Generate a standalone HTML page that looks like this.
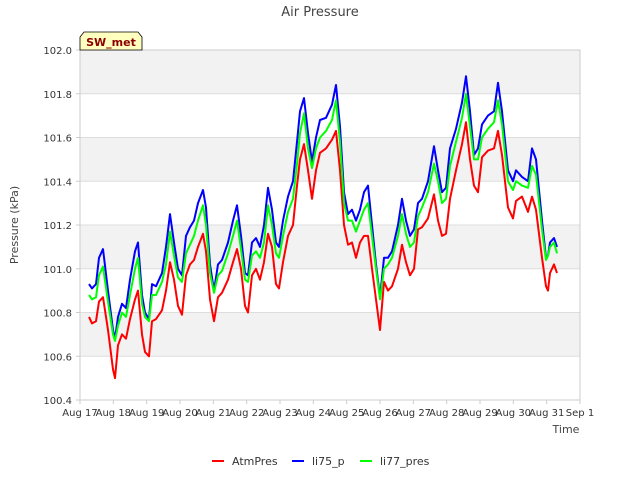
<!DOCTYPE html>
<html><head><meta charset="utf-8"><style>
body{margin:0;background:#fff;font-family:"Liberation Sans",sans-serif;}
svg text{font-family:"DejaVu Sans","Liberation Sans",sans-serif;}
</style></head><body>
<svg id="chart" width="640" height="480" xmlns="http://www.w3.org/2000/svg">
<text x="320" y="16" text-anchor="middle" font-size="13" fill="#444">Air Pressure</text>
<g id="bands"></g>
<g id="grid"></g>
<rect x="80" y="50" width="500" height="350" fill="none" stroke="#ccc"/>
<g id="yticks"></g>
<g id="xticks"></g>
<text transform="translate(18,225) rotate(-90)" text-anchor="middle" font-size="11" fill="#444">Pressure (kPa)</text>
<text x="566" y="433" text-anchor="middle" font-size="11" fill="#444">Time</text>
<g id="series"></g>
<g>
<path d="M80,50 L80,37 L84,32 L138,32 L142,37 L142,50 Z" fill="#ffffc0" stroke="#000" stroke-width="0.8"/>
<text x="111" y="46" text-anchor="middle" font-size="11" font-weight="bold" fill="#8b0000">SW_met</text>
</g>
<g>
<g><line x1="212" y1="461" x2="224" y2="461" stroke="#f00" stroke-width="2"/><text x="232" y="465" font-size="11" fill="#333">AtmPres</text></g>
<g><line x1="292" y1="461" x2="304" y2="461" stroke="#00f" stroke-width="2"/><text x="312" y="465" font-size="11" fill="#333">li75_p</text></g>
<g><line x1="360" y1="461" x2="372" y2="461" stroke="#0f0" stroke-width="2"/><text x="380" y="465" font-size="11" fill="#333">li77_pres</text></g>
</g>
</svg>
<script>
const xTickLabels=["Aug 17","Aug 18","Aug 19","Aug 20","Aug 21","Aug 22","Aug 23","Aug 24","Aug 25","Aug 26","Aug 27","Aug 28","Aug 29","Aug 30","Aug 31","Sep 1"];
const yTickValues=[100.4,100.6,100.8,101.0,101.2,101.4,101.6,101.8,102.0];
const days=[0.27,0.36,0.48,0.57,0.69,0.84,0.99,1.05,1.14,1.26,1.38,1.50,1.65,1.74,1.86,1.95,2.07,2.16,2.28,2.46,2.58,2.70,2.82,2.94,3.06,3.18,3.30,3.42,3.54,3.69,3.78,3.90,4.02,4.14,4.26,4.44,4.59,4.71,4.83,4.95,5.04,5.16,5.28,5.40,5.52,5.64,5.76,5.88,5.97,6.09,6.24,6.39,6.51,6.60,6.72,6.84,6.96,7.08,7.20,7.38,7.56,7.68,7.80,7.92,8.04,8.16,8.28,8.40,8.52,8.64,8.76,8.88,9.00,9.12,9.24,9.36,9.54,9.66,9.78,9.90,10.02,10.14,10.26,10.44,10.62,10.74,10.86,10.98,11.10,11.28,11.46,11.58,11.70,11.82,11.94,12.06,12.24,12.42,12.54,12.66,12.84,12.99,13.08,13.26,13.44,13.56,13.68,13.86,13.98,14.04,14.10,14.22,14.31];
const atmPres=[100.78,100.75,100.76,100.85,100.87,100.72,100.54,100.50,100.65,100.70,100.68,100.77,100.86,100.90,100.70,100.62,100.60,100.76,100.77,100.81,100.90,101.03,100.95,100.83,100.79,100.97,101.02,101.04,101.10,101.16,101.08,100.86,100.76,100.87,100.89,100.95,101.03,101.09,101.00,100.83,100.80,100.97,101.00,100.95,101.03,101.16,101.10,100.93,100.91,101.03,101.15,101.20,101.38,101.50,101.57,101.45,101.32,101.45,101.53,101.55,101.59,101.63,101.45,101.20,101.11,101.12,101.05,101.12,101.15,101.15,101.00,100.86,100.72,100.94,100.90,100.92,101.00,101.11,101.03,100.97,101.00,101.18,101.19,101.23,101.34,101.22,101.15,101.16,101.32,101.45,101.57,101.67,101.50,101.38,101.35,101.51,101.54,101.55,101.63,101.52,101.28,101.23,101.31,101.33,101.26,101.33,101.27,101.05,100.92,100.90,100.98,101.02,100.98];
const li75p=[100.93,100.91,100.93,101.05,101.09,100.90,100.72,100.68,100.78,100.84,100.82,100.95,101.08,101.12,100.88,100.80,100.77,100.93,100.92,100.98,101.10,101.25,101.12,101.00,100.97,101.15,101.19,101.22,101.30,101.36,101.28,101.02,100.90,101.02,101.04,101.12,101.22,101.29,101.15,100.98,100.97,101.12,101.14,101.10,101.20,101.37,101.27,101.12,101.10,101.22,101.33,101.40,101.58,101.72,101.78,101.62,101.49,101.60,101.68,101.69,101.75,101.84,101.65,101.35,101.25,101.27,101.22,101.27,101.35,101.38,101.20,101.02,100.87,101.05,101.05,101.08,101.20,101.32,101.22,101.15,101.18,101.30,101.32,101.40,101.56,101.45,101.35,101.37,101.55,101.64,101.76,101.88,101.72,101.52,101.55,101.66,101.70,101.72,101.85,101.72,101.45,101.40,101.45,101.42,101.40,101.55,101.50,101.22,101.05,101.06,101.12,101.14,101.10];
const li77pres=[100.88,100.86,100.87,100.97,101.01,100.85,100.70,100.67,100.74,100.80,100.78,100.88,101.00,101.05,100.84,100.78,100.76,100.88,100.88,100.94,101.02,101.17,101.06,100.96,100.94,101.07,101.11,101.15,101.22,101.29,101.20,100.98,100.89,100.97,100.99,101.07,101.15,101.22,101.09,100.95,100.94,101.06,101.08,101.05,101.12,101.29,101.20,101.07,101.05,101.15,101.26,101.32,101.48,101.62,101.71,101.55,101.46,101.55,101.60,101.63,101.68,101.77,101.58,101.30,101.22,101.22,101.17,101.22,101.27,101.30,101.15,101.00,100.86,101.00,101.02,101.05,101.15,101.25,101.16,101.10,101.12,101.24,101.28,101.35,101.48,101.40,101.30,101.32,101.47,101.58,101.69,101.80,101.65,101.50,101.50,101.60,101.64,101.67,101.77,101.66,101.40,101.36,101.40,101.38,101.37,101.47,101.43,101.18,101.04,101.06,101.10,101.12,101.07];
const NS="http://www.w3.org/2000/svg";
const X0=80,X1=580,Y0=400,Y1=50,DMAX=15,VMIN=100.4,VMAX=102.0;
function xs(d){return X0+(X1-X0)*d/DMAX;}
function ys(v){return Y0-(Y0-Y1)*(v-VMIN)/(VMAX-VMIN);}
function mk(tag,attrs,parent){const e=document.createElementNS(NS,tag);for(const k in attrs)e.setAttribute(k,attrs[k]);parent.appendChild(e);return e;}
const bands=document.getElementById('bands'),grid=document.getElementById('grid'),yt=document.getElementById('yticks'),xt=document.getElementById('xticks'),ser=document.getElementById('series');
mk('rect',{x:X0,y:Y1,width:X1-X0,height:Y0-Y1,fill:'#fff'},bands);
for(let i=0;i<yTickValues.length-1;i++){
  if(i%2===1){const b=mk('rect',{x:X0,y:ys(yTickValues[i+1]),width:X1-X0,height:ys(yTickValues[i])-ys(yTickValues[i+1]),fill:'#f2f2f2'},bands);
  
  }
}
yTickValues.forEach(v=>{
  const y=ys(v);
  const l=mk('line',{x1:X0,x2:X1,y1:y,y2:y,stroke:'#ddd'},grid);
  
  
  mk('line',{x1:X0-4,x2:X0,y1:y,y2:y,stroke:'#ccc'},yt);
  const t=mk('text',{x:X0-8,y:y+4,'text-anchor':'end','font-size':10,fill:'#333'},yt);
  t.textContent=v.toFixed(1);
  
  
});
xTickLabels.forEach((s,i)=>{
  const x=xs(i);
  mk('line',{x1:x,x2:x,y1:Y0,y2:Y0+4,stroke:'#ccc'},xt);
  const t=mk('text',{x:x,y:Y0+16,'text-anchor':'middle','font-size':10,fill:'#333'},xt);
  t.textContent=s;
  
  
});
[[atmPres,'#f00','atmpres-line'],[li75p,'#00f','li75-p-line'],[li77pres,'#0f0','li77-pres-line']].forEach(([vals,c,n])=>{
  const p=mk('polyline',{points:vals.map((v,i)=>xs(days[i]).toFixed(1)+','+ys(v).toFixed(1)).join(' '),fill:'none',stroke:c,'stroke-width':2,'stroke-linejoin':'round'},ser);
  
  
});
</script>
</body></html>
